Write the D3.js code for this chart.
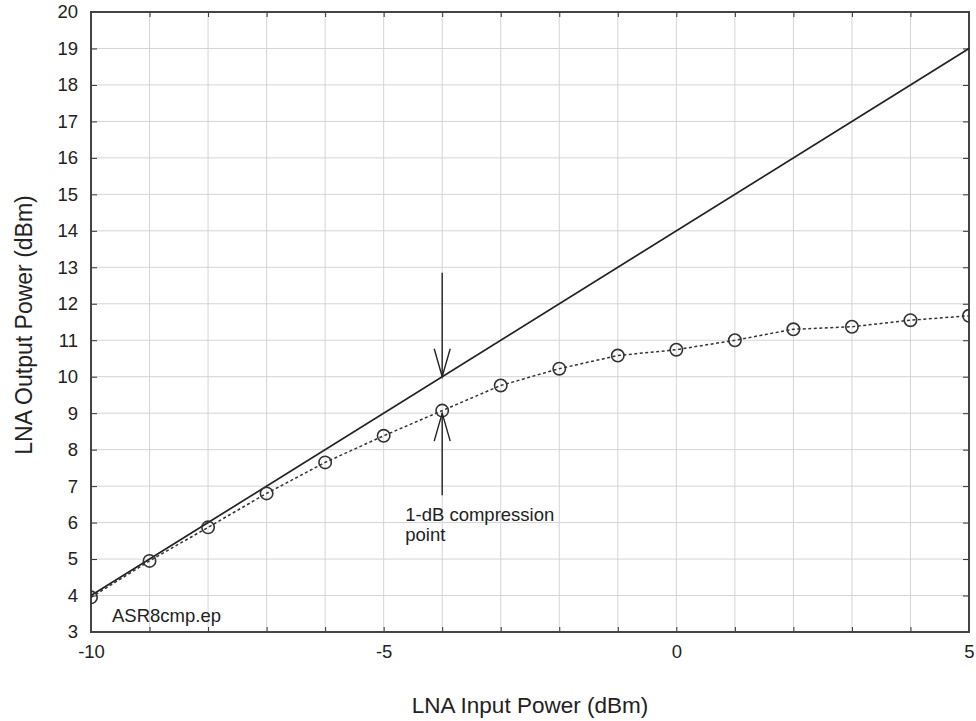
<!DOCTYPE html>
<html><head><meta charset="utf-8">
<script src="https://cdn.jsdelivr.net/npm/d3@7"></script>
<style>body{margin:0;background:#fff}svg{display:block}text{font-family:"Liberation Sans",Arial,sans-serif;fill:#222}</style>
</head><body>
<svg id="c" width="976" height="721"></svg>
<script>
const inputPower = [-10,-9,-8,-7,-6,-5,-4,-3,-2,-1,0,1,2,3,4,5];
const outputPower = [3.95,4.95,5.87,6.8,7.65,8.38,9.07,9.76,10.22,10.58,10.74,11.0,11.3,11.37,11.55,11.67];
const linearIn = [-10,5];
const linearOut = [4,19];
const xTickLabels = [-10,-5,0,5];
const yTickLabels = [3,4,5,6,7,8,9,10,11,12,13,14,15,16,17,18,19,20];
const arrowDown = {x:-4, from:12.85, to:10.0};
const arrowUp = {x:-4, from:6.75, to:9.0};
const annotation = ["1-dB compression","point"];
const fileTag = "ASR8cmp.ep";
const xTitle = "LNA Input Power (dBm)";
const yTitle = "LNA Output Power (dBm)";

const L=91,R=969,T=12,B=632;
const svg=d3.select("#c");
const x=d3.scaleLinear().domain([-10,5]).range([L,R]);
const y=d3.scaleLinear().domain([3,20]).range([B,T]);
const FS=18.5;

// grid
const g=svg.append("g");
g.selectAll(".vx").data(d3.range(-9,5)).join("line")
 .attr("x1",d=>x(d)).attr("x2",d=>x(d)).attr("y1",T).attr("y2",B)
 .attr("stroke","#d4d4d4").attr("stroke-width",1);
g.selectAll(".hy").data(d3.range(4,20)).join("line")
 .attr("y1",d=>y(d)).attr("y2",d=>y(d)).attr("x1",L).attr("x2",R)
 .attr("stroke","#d4d4d4").attr("stroke-width",1);

// axes
const xAxB=d3.axisBottom(x).tickValues(d3.range(-10,6)).tickSize(-5).tickFormat(d=>xTickLabels.includes(d)?d:"").tickPadding(13);
const ax=svg.append("g").attr("transform",`translate(0,${B})`).call(xAxB);
ax.select(".domain").remove();
ax.selectAll("line").attr("stroke","#333");
ax.selectAll("text").attr("font-size",FS).style("font-family","Liberation Sans, Arial, sans-serif").attr("fill","#222");
const axT=svg.append("g").attr("transform",`translate(0,${T})`).call(d3.axisTop(x).tickValues(d3.range(-9,5)).tickSize(-5).tickFormat(""));
axT.select(".domain").remove(); axT.selectAll("line").attr("stroke","#333");

const ay=svg.append("g").attr("transform",`translate(${L},0)`).call(d3.axisLeft(y).tickValues(yTickLabels).tickSize(-6).tickPadding(13));
ay.select(".domain").remove();
ay.selectAll("line").attr("stroke","#333");
ay.selectAll("text").attr("font-size",FS).style("font-family","Liberation Sans, Arial, sans-serif").attr("fill","#222");
const ayR=svg.append("g").attr("transform",`translate(${R},0)`).call(d3.axisRight(y).tickValues(d3.range(4,20)).tickSize(-6).tickFormat(""));
ayR.select(".domain").remove(); ayR.selectAll("line").attr("stroke","#333");

// frame
svg.append("rect").attr("x",L).attr("y",T).attr("width",R-L).attr("height",B-T)
 .attr("fill","none").attr("stroke","#444").attr("stroke-width",2);

svg.append("clipPath").attr("id","pc").append("rect").attr("x",L).attr("y",T).attr("width",R-L).attr("height",B-T);

// linear line
svg.append("path").datum(linearIn.map((d,i)=>[d,linearOut[i]]))
 .attr("d",d3.line().x(d=>x(d[0])).y(d=>y(d[1])))
 .attr("stroke","#222").attr("stroke-width",1.7).attr("fill","none");

// measured dotted line
svg.append("path").datum(inputPower.map((d,i)=>[d,outputPower[i]]))
 .attr("d",d3.line().x(d=>x(d[0])).y(d=>y(d[1])))
 .attr("stroke","#333").attr("stroke-width",1.5).attr("stroke-dasharray","3,2.5").attr("fill","none");

svg.append("g").attr("clip-path","url(#pc)").selectAll("circle").data(inputPower).join("circle")
 .attr("cx",d=>x(d)).attr("cy",(d,i)=>y(outputPower[i])).attr("r",6.2)
 .attr("fill","none").attr("stroke","#333").attr("stroke-width",1.6);

// arrows
function arrow(a){
  const x0=x(a.x), y0=y(a.from), y1=y(a.to);
  const dir=y1>y0?1:-1;
  svg.append("line").attr("x1",x0).attr("x2",x0).attr("y1",y0).attr("y2",y1).attr("stroke","#222").attr("stroke-width",1.4);
  svg.append("path").attr("d",`M${x0-8},${y1-dir*28}L${x0},${y1}L${x0+8},${y1-dir*28}`)
   .attr("fill","none").attr("stroke","#222").attr("stroke-width",1.4);
}
arrow(arrowDown); arrow(arrowUp);

svg.selectAll(".ann").data(annotation).join("text")
 .attr("x",x(-4)-37).attr("y",(d,i)=>y(arrowUp.from)+26+i*20).attr("font-size",FS).text(d=>d);

svg.append("text").attr("x",x(-10)+21).attr("y",y(3)-10).attr("font-size",FS).text(fileTag);

svg.append("text").attr("x",530).attr("y",713).attr("text-anchor","middle").attr("font-size",22.5).text(xTitle);
svg.append("text").attr("transform",`translate(32,325) rotate(-90)`).attr("text-anchor","middle").attr("font-size",23).text(yTitle);
</script>
</body></html>
